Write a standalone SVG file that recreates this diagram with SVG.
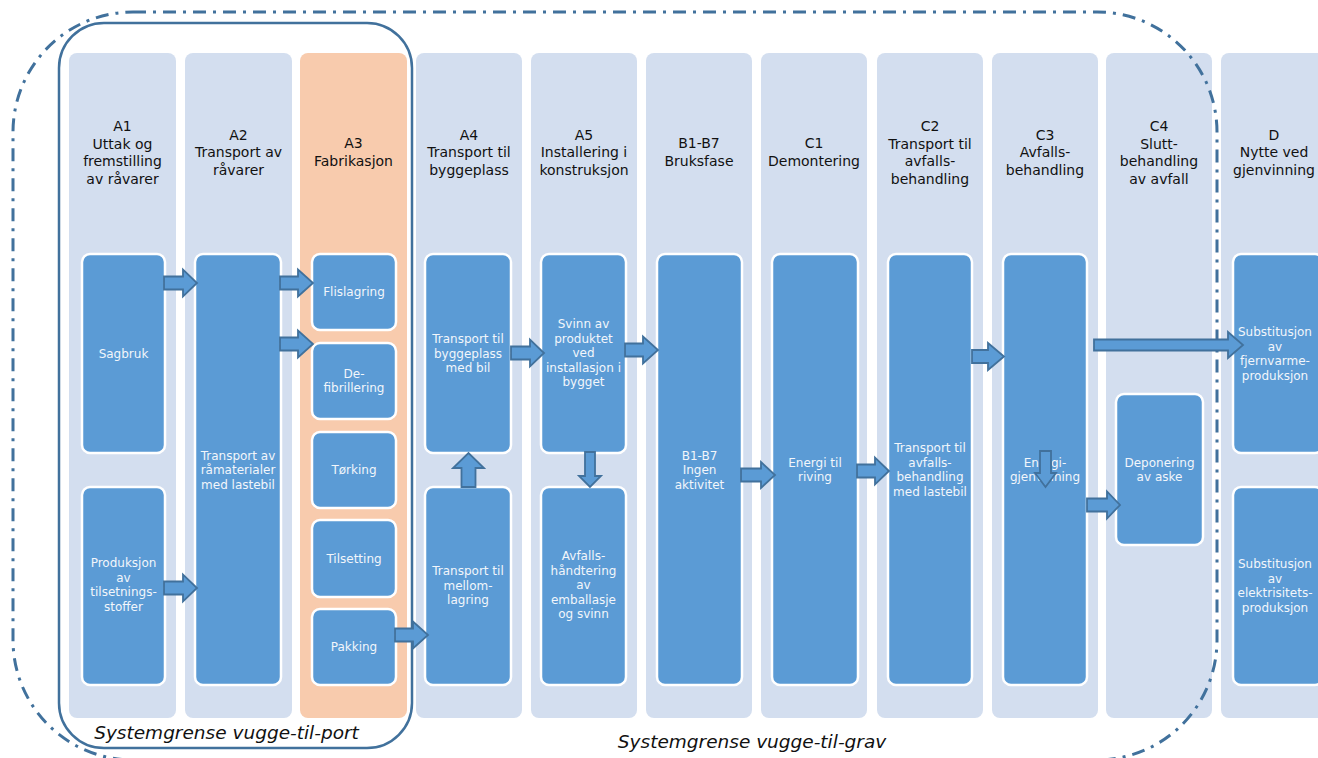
<svg xmlns="http://www.w3.org/2000/svg" width="1318" height="758" viewBox="0 0 1318 758">
<style>
.col{fill:#D3DEEF}
.colA3{fill:#F8CBAD}
.box{fill:#5B9BD5;stroke:#FFFFFF;stroke-width:2.5}
.hd{font-family:"DejaVu Sans",sans-serif;font-size:14px;fill:#111111;text-anchor:middle}
.bt{font-family:"DejaVu Sans",sans-serif;font-size:12px;fill:#F2F6FB;text-anchor:middle}
.arr{fill:#5B9BD5;stroke:#41719C;stroke-width:1.8;stroke-linejoin:miter}
.lbl{font-family:"DejaVu Sans",sans-serif;font-size:18.5px;font-style:italic;fill:#111111;text-anchor:middle}
.port{fill:none;stroke:#41719C;stroke-width:2.5}
.grav{fill:none;stroke:#41719C;stroke-width:3;stroke-dasharray:13 7 3 7}
</style>
<rect width="1318" height="758" fill="#FFFFFF"/>
<!-- columns -->
<g id="columns">
<rect class="col" x="69" y="53" width="107" height="665" rx="8"/>
<rect class="col" x="185" y="53" width="107" height="665" rx="8"/>
<rect class="colA3" x="300" y="53" width="107" height="665" rx="8"/>
<rect class="col" x="416" y="53" width="106" height="665" rx="8"/>
<rect class="col" x="531" y="53" width="106" height="665" rx="8"/>
<rect class="col" x="646" y="53" width="106" height="665" rx="8"/>
<rect class="col" x="761" y="53" width="106" height="665" rx="8"/>
<rect class="col" x="877" y="53" width="106" height="665" rx="8"/>
<rect class="col" x="992" y="53" width="106" height="665" rx="8"/>
<rect class="col" x="1106" y="53" width="106" height="665" rx="8"/>
<rect class="col" x="1221" y="53" width="110" height="665" rx="8"/>
</g>
<g id="headers">
<text class="hd"><tspan x="122.5" y="131">A1</tspan><tspan x="122.5" y="148.5">Uttak og</tspan><tspan x="122.5" y="166">fremstilling</tspan><tspan x="122.5" y="183.5">av råvarer</tspan></text>
<text class="hd"><tspan x="238.5" y="139.5">A2</tspan><tspan x="238.5" y="157">Transport av</tspan><tspan x="238.5" y="174.5">råvarer</tspan></text>
<text class="hd"><tspan x="353.5" y="148">A3</tspan><tspan x="353.5" y="165.5">Fabrikasjon</tspan></text>
<text class="hd"><tspan x="469" y="139.5">A4</tspan><tspan x="469" y="157">Transport til</tspan><tspan x="469" y="174.5">byggeplass</tspan></text>
<text class="hd"><tspan x="584" y="139.5">A5</tspan><tspan x="584" y="157">Installering i</tspan><tspan x="584" y="174.5">konstruksjon</tspan></text>
<text class="hd"><tspan x="699" y="148">B1-B7</tspan><tspan x="699" y="165.5">Bruksfase</tspan></text>
<text class="hd"><tspan x="814" y="148">C1</tspan><tspan x="814" y="165.5">Demontering</tspan></text>
<text class="hd"><tspan x="930" y="131">C2</tspan><tspan x="930" y="148.5">Transport til</tspan><tspan x="930" y="166">avfalls-</tspan><tspan x="930" y="183.5">behandling</tspan></text>
<text class="hd"><tspan x="1045" y="139.5">C3</tspan><tspan x="1045" y="157">Avfalls-</tspan><tspan x="1045" y="174.5">behandling</tspan></text>
<text class="hd"><tspan x="1159" y="131">C4</tspan><tspan x="1159" y="148.5">Slutt-</tspan><tspan x="1159" y="166">behandling</tspan><tspan x="1159" y="183.5">av avfall</tspan></text>
<text class="hd"><tspan x="1274" y="139.5">D</tspan><tspan x="1274" y="157">Nytte ved</tspan><tspan x="1274" y="174.5">gjenvinning</tspan></text>
</g>
<!-- boundaries -->
<g id="boundaries">
<rect class="port" x="59" y="23" width="353" height="725" rx="45"/>
<rect class="grav" x="13" y="12" width="1204" height="748" rx="120"/>
<text class="lbl" x="226.5" y="739">Systemgrense vugge-til-port</text>
<text class="lbl" x="752" y="748">Systemgrense vugge-til-grav</text>
</g>
<!-- nodes -->
<g id="sagbruk"><rect class="box" x="82" y="254" width="83" height="199" rx="8"/><text class="bt" x="123.5" y="358">Sagbruk</text></g>
<g id="produksjon"><rect class="box" x="82" y="487" width="83" height="198" rx="8"/><text class="bt"><tspan x="123.5" y="567">Produksjon</tspan><tspan x="123.5" y="581.5">av</tspan><tspan x="123.5" y="596">tilsetnings-</tspan><tspan x="123.5" y="610.5">stoffer</tspan></text></g>
<g id="transport-ravarer"><rect class="box" x="195" y="254" width="86" height="431" rx="8"/><text class="bt"><tspan x="238" y="459.5">Transport av</tspan><tspan x="238" y="474">råmaterialer</tspan><tspan x="238" y="488.5">med lastebil</tspan></text></g>
<g id="flislagring"><rect class="box" x="312" y="254" width="84" height="76" rx="8"/><text class="bt" x="354" y="296">Flislagring</text></g>
<g id="defibrillering"><rect class="box" x="312" y="343" width="84" height="76" rx="8"/><text class="bt"><tspan x="354" y="377.5">De-</tspan><tspan x="354" y="392">fibrillering</tspan></text></g>
<g id="torking"><rect class="box" x="312" y="432" width="84" height="76" rx="8"/><text class="bt" x="354" y="474">Tørking</text></g>
<g id="tilsetting"><rect class="box" x="312" y="520" width="84" height="77" rx="8"/><text class="bt" x="354" y="562.5">Tilsetting</text></g>
<g id="pakking"><rect class="box" x="312" y="609" width="84" height="76" rx="8"/><text class="bt" x="354" y="651">Pakking</text></g>
<g id="transport-byggeplass"><rect class="box" x="425" y="254" width="86" height="199" rx="8"/><text class="bt"><tspan x="468" y="343">Transport til</tspan><tspan x="468" y="357.5">byggeplass</tspan><tspan x="468" y="372">med bil</tspan></text></g>
<g id="transport-mellomlagring"><rect class="box" x="425" y="487" width="86" height="198" rx="8"/><text class="bt"><tspan x="468" y="575">Transport til</tspan><tspan x="468" y="589.5">mellom-</tspan><tspan x="468" y="604">lagring</tspan></text></g>
<g id="svinn"><rect class="box" x="541" y="254" width="85" height="199" rx="8"/><text class="bt"><tspan x="583.5" y="328">Svinn av</tspan><tspan x="583.5" y="342.5">produktet</tspan><tspan x="583.5" y="357">ved</tspan><tspan x="583.5" y="371.5">installasjon i</tspan><tspan x="583.5" y="386">bygget</tspan></text></g>
<g id="avfallshandtering"><rect class="box" x="541" y="487" width="85" height="198" rx="8"/><text class="bt"><tspan x="583.5" y="560">Avfalls-</tspan><tspan x="583.5" y="574.5">håndtering</tspan><tspan x="583.5" y="589">av</tspan><tspan x="583.5" y="603.5">emballasje</tspan><tspan x="583.5" y="618">og svinn</tspan></text></g>
<g id="bruksfase"><rect class="box" x="657" y="254" width="85" height="431" rx="8"/><text class="bt"><tspan x="699.5" y="459.5">B1-B7</tspan><tspan x="699.5" y="474">Ingen</tspan><tspan x="699.5" y="488.5">aktivitet</tspan></text></g>
<g id="energi-riving"><rect class="box" x="772" y="254" width="86" height="431" rx="8"/><text class="bt"><tspan x="815" y="466.5">Energi til</tspan><tspan x="815" y="481">riving</tspan></text></g>
<g id="transport-avfall"><rect class="box" x="888" y="254" width="84" height="431" rx="8"/><text class="bt"><tspan x="930" y="452">Transport til</tspan><tspan x="930" y="466.5">avfalls-</tspan><tspan x="930" y="481">behandling</tspan><tspan x="930" y="495.5">med lastebil</tspan></text></g>
<g id="energigjenvinning"><rect class="box" x="1003" y="254" width="84" height="431" rx="8"/><text class="bt"><tspan x="1045" y="466.5">Energi-</tspan><tspan x="1045" y="481">gjenvinning</tspan></text></g>
<g id="deponering"><rect class="box" x="1116" y="394" width="87" height="151" rx="8"/><text class="bt"><tspan x="1159.5" y="466.5">Deponering</tspan><tspan x="1159.5" y="481">av aske</tspan></text></g>
<g id="substitusjon-fjernvarme"><rect class="box" x="1233" y="254" width="90" height="199" rx="8"/><text class="bt"><tspan x="1275" y="336">Substitusjon</tspan><tspan x="1275" y="350.5">av</tspan><tspan x="1275" y="365">fjernvarme-</tspan><tspan x="1275" y="379.5">produksjon</tspan></text></g>
<g id="substitusjon-elektrisitet"><rect class="box" x="1233" y="487" width="90" height="198" rx="8"/><text class="bt"><tspan x="1275" y="568">Substitusjon</tspan><tspan x="1275" y="582.5">av</tspan><tspan x="1275" y="597">elektrisitets-</tspan><tspan x="1275" y="611.5">produksjon</tspan></text></g>
<!-- connectors -->
<g id="connectors">
<path class="arr" d="M164,276.5 L183,276.5 L183,269.5 L197,283 L183,296.5 L183,289.5 L164,289.5 Z"/>
<path class="arr" d="M280,276.5 L298,276.5 L298,269.5 L313,283 L298,296.5 L298,289.5 L280,289.5 Z"/>
<path class="arr" d="M280,337.5 L298,337.5 L298,330.5 L313,344 L298,357.5 L298,350.5 L280,350.5 Z"/>
<path class="arr" d="M164,581.5 L183,581.5 L183,574.5 L197,588 L183,601.5 L183,594.5 L164,594.5 Z"/>
<path class="arr" d="M395,628.5 L413,628.5 L413,621.5 L428,635 L413,648.5 L413,641.5 L395,641.5 Z"/>
<path class="arr" d="M511,346.5 L530,346.5 L530,339.5 L544,353 L530,366.5 L530,359.5 L511,359.5 Z"/>
<path class="arr" d="M625,343.5 L643,343.5 L643,336.5 L658,350 L643,363.5 L643,356.5 L625,356.5 Z"/>
<path class="arr" d="M741,468.5 L761,468.5 L761,462 L775,475 L761,488 L761,481.5 L741,481.5 Z"/>
<path class="arr" d="M857,464.5 L875,464.5 L875,457.5 L889,471 L875,484.5 L875,477.5 L857,477.5 Z"/>
<path class="arr" d="M972,350 L988,350 L988,343 L1004,356.5 L988,370 L988,363 L972,363 Z"/>
<path class="arr" d="M1087,498.5 L1107,498.5 L1107,491.5 L1120,505 L1107,518.5 L1107,511.5 L1087,511.5 Z"/>
<path class="arr" d="M1094,339.5 L1228,339.5 L1228,332 L1243,345 L1228,358 L1228,350.5 L1094,350.5 Z"/>
<path class="arr" d="M461.5,487 L461.5,468 L453,468 L468.5,453 L484,468 L475.5,468 L475.5,487 Z"/>
<path class="arr" d="M585,452 L585,476 L579,476 L590,487 L601,476 L595,476 L595,452 Z"/>
<path class="arr" d="M1040,451 L1040,473 L1035,473 L1045.5,487 L1056,473 L1051,473 L1051,451 Z"/>
</g>
</svg>
